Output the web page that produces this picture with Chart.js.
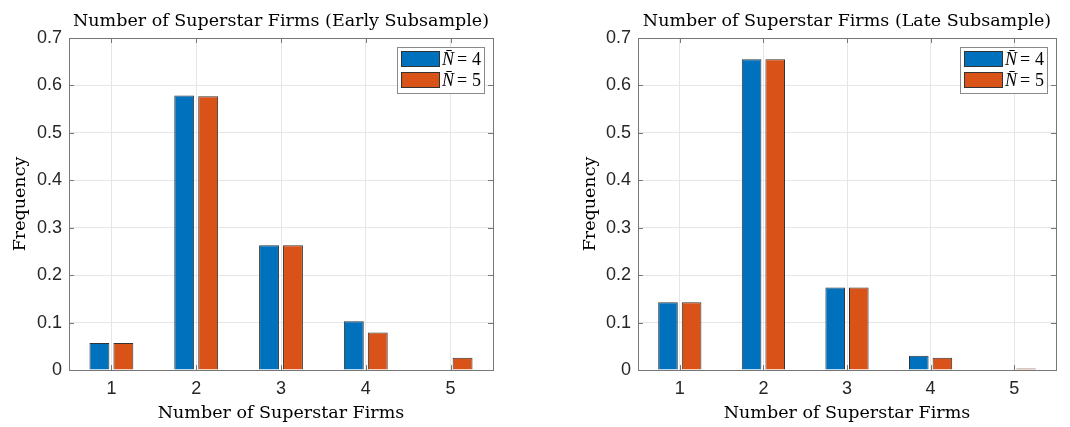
<!DOCTYPE html>
<html>
<head>
<meta charset="utf-8">
<script src="https://cdn.jsdelivr.net/npm/chart.js@4.4.0/dist/chart.umd.min.js"></script>
<style>
  body { margin: 0; background: #fff; }
  .painel { position: absolute; top: 0; width: 535px; height: 427px; }
</style>
</head>
<body>
<div class="painel" style="left:0"><canvas id="graficoEarly"></canvas></div>
<div class="painel" style="left:535px"><canvas id="graficoLate"></canvas></div>
<script>
// dados
const categorias = ['1', '2', '3', '4', '5']
const rotulos = ['N\u0304', 'N\u0304']
const valores_n = ['4', '5']

const early_n4 = [0.057, 0.579, 0.263, 0.103, 0]
const early_n5 = [0.057, 0.577, 0.263, 0.079, 0.026]
const late_n4 = [0.143, 0.655, 0.174, 0.030, 0]
const late_n5 = [0.143, 0.655, 0.174, 0.026, 0.003]

const azul = '#0072BD'
const laranja = '#D95319'
const serif = "'DejaVu Serif', serif"
const serifLegenda = "'Liberation Serif', serif"
const sans = "'Liberation Sans', Arial, sans-serif"

// moldura da area do grafico com ticks para dentro (estilo matlab)
const moldura = {
  id: 'moldura',
  afterDatasetsDraw(chart) {
    const {ctx, chartArea: a, scales} = chart
    ctx.save()
    ctx.strokeStyle = '#777'
    ctx.lineWidth = 1
    ctx.beginPath()
    scales.x.ticks.forEach((t, i) => {
      const x = Math.round(scales.x.getPixelForTick(i)) + 0.5
      ctx.moveTo(x, a.bottom); ctx.lineTo(x, a.bottom - 5)
      ctx.moveTo(x, a.top); ctx.lineTo(x, a.top + 5)
    })
    scales.y.ticks.forEach(t => {
      const y = Math.round(scales.y.getPixelForValue(t.value)) + 0.5
      ctx.moveTo(a.left, y); ctx.lineTo(a.left + 5, y)
      ctx.moveTo(a.right, y); ctx.lineTo(a.right - 5, y)
    })
    ctx.stroke()
    ctx.strokeRect(Math.round(a.left) + 0.5, Math.round(a.top) + 0.5,
      Math.round(a.right - a.left), Math.round(a.bottom - a.top))
    ctx.restore()
  }
}

// legenda dentro do grafico, canto superior direito
const legenda = {
  id: 'legenda',
  afterDraw(chart) {
    const {ctx, chartArea: a} = chart
    const w = 87, h = 46
    const x0 = a.right - 9 - w, y0 = a.top + 9
    ctx.save()
    ctx.fillStyle = '#fff'
    ctx.fillRect(x0, y0, w, h)
    ctx.strokeStyle = '#8a8a8a'
    ctx.lineWidth = 1
    ctx.strokeRect(x0 + 0.5, y0 + 0.5, w, h)
    chart.data.datasets.forEach((ds, i) => {
      const yy = y0 + 4 + i * 21
      ctx.fillStyle = ds.backgroundColor
      ctx.fillRect(x0 + 4, yy, 38, 15)
      ctx.strokeStyle = '#333'
      ctx.strokeRect(x0 + 4.5, yy + 0.5, 38, 15)
      ctx.fillStyle = '#000'
      ctx.textBaseline = 'middle'
      ctx.font = 'italic 18px ' + serifLegenda
      ctx.fillText(rotulos[i], x0 + 45, yy + 9)
      ctx.font = '18px ' + serifLegenda
      ctx.fillText('=', x0 + 60, yy + 9)
      ctx.fillText(valores_n[i], x0 + 75, yy + 9)
    })
    ctx.restore()
  }
}

function montaGrafico(id, titulo, n4, n5, margemEsq, eixoY, direita) {
  const data = {
    labels: categorias,
    datasets: [
      { label: rotulos[0] + ' = ' + valores_n[0], data: n4, backgroundColor: azul },
      { label: rotulos[1] + ' = ' + valores_n[1], data: n5, backgroundColor: laranja }
    ]
  }
  data.datasets.forEach(ds => {
    ds.borderColor = '#333'
    ds.borderWidth = 1
    ds.categoryPercentage = 0.565
    ds.barPercentage = 0.83
  })

  const config = {
    type: 'bar',
    data: data,
    options: {
      responsive: false,
      animation: false,
      devicePixelRatio: 1,
      layout: { padding: { left: margemEsq, right: direita, top: 0, bottom: 0 } },
      plugins: {
        legend: { display: false },
        tooltip: { enabled: false },
        title: {
          display: true,
          text: titulo,
          fullSize: false,
          color: '#000',
          font: { family: serif, size: 17.5, weight: 'normal' },
          padding: { top: 10.5, bottom: 6.5 }
        }
      },
      scales: {
        x: {
          afterFit: s => { s.height = 57 },
          grid: { offset: false, color: '#e6e6e6', drawTicks: false },
          border: { display: false },
          ticks: { color: '#262626', font: { family: sans, size: 18 }, padding: 8 },
          title: {
            display: true, text: 'Number of Superstar Firms', color: '#000',
            font: { family: serif, size: 17.5 }, padding: { top: 0, bottom: 3 }
          }
        },
        y: {
          min: 0, max: 0.7,
          afterFit: s => { s.width = eixoY },
          grid: { color: '#e6e6e6', drawTicks: false },
          border: { display: false },
          ticks: {
            stepSize: 0.1, color: '#262626', padding: 7,
            font: { family: sans, size: 18 },
            callback: v => String(Number(v.toFixed(1)))
          },
          title: {
            display: true, text: 'Frequency', color: '#000',
            font: { family: serif, size: 17.5 }, padding: { top: 10, bottom: 0 }
          }
        }
      }
    },
    plugins: [moldura, legenda]
  }

  const canvas = document.getElementById(id)
  canvas.width = 535
  canvas.height = 427
  return new Chart(canvas, config)
}

montaGrafico('graficoEarly', 'Number of Superstar Firms (Early Subsample)', early_n4, early_n5, 0, 69, 42)
montaGrafico('graficoLate', 'Number of Superstar Firms (Late Subsample)', late_n4, late_n5, 35, 68, 14)
</script>
</body>
</html>
